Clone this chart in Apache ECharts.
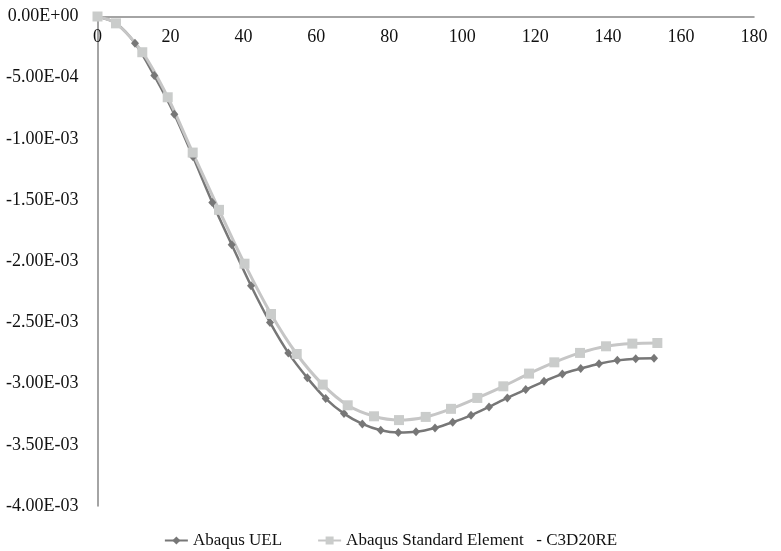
<!DOCTYPE html>
<html>
<head>
<meta charset="utf-8">
<script src="https://cdn.jsdelivr.net/npm/echarts@6/dist/echarts.min.js"></script>
<style>
html,body{margin:0;padding:0;background:#fff;}
#chart{width:781px;height:551px;}
</style>
</head>
<body>
<div id="chart"></div>
<script>
// UEL series (dark diamonds)
const xUEL = [0, 5.07, 10.28, 15.57, 21.06, 26.19, 31.48, 36.80, 42.09, 47.30, 52.32, 57.53, 62.57, 67.59, 72.61, 77.65, 82.48, 87.33, 92.54, 97.39, 102.41, 107.35, 112.37, 117.41, 122.43, 127.45, 132.49, 137.51, 142.53, 147.57, 152.59];
const yUEL = [0, -5.5e-5, -2.19e-4, -4.83e-4, -7.98e-4, -1.147e-3, -1.52e-3, -1.865e-3, -2.20e-3, -2.50e-3, -2.749e-3, -2.953e-3, -3.122e-3, -3.245e-3, -3.329e-3, -3.381e-3, -3.40e-3, -3.394e-3, -3.362e-3, -3.316e-3, -3.259e-3, -3.190e-3, -3.117e-3, -3.049e-3, -2.981e-3, -2.921e-3, -2.877e-3, -2.837e-3, -2.810e-3, -2.796e-3, -2.793e-3];
// Standard element series (light squares)
const xStd = [0, 5.07, 12.28, 19.25, 26.10, 33.31, 40.3, 47.57, 54.62, 61.75, 68.60, 75.81, 82.67, 89.99, 96.93, 104.14, 111.27, 118.32, 125.25, 132.30, 139.43, 146.64, 153.50];
const yStd = [0, -5.6e-5, -2.92e-4, -6.60e-4, -1.112e-3, -1.580e-3, -2.02e-3, -2.431e-3, -2.758e-3, -3.008e-3, -3.177e-3, -3.267e-3, -3.298e-3, -3.272e-3, -3.206e-3, -3.117e-3, -3.022e-3, -2.918e-3, -2.826e-3, -2.749e-3, -2.695e-3, -2.673e-3, -2.668e-3];
const seriesNames = ['Abaqus UEL', 'Abaqus Standard Element   - C3D20RE'];
const xTicks = {min: 0, max: 180, interval: 20};
const yTicks = {min: -0.004, max: 0, interval: 0.0005};

function fmtE(v) {
  if (Math.abs(v) < 1e-12) return '0.00E+00';
  const s = v.toExponential(2);
  const parts = s.split('e');
  const n = parseInt(parts[1], 10);
  return parts[0] + 'E' + (n < 0 ? '-' : '+') + String(Math.abs(n)).padStart(2, '0');
}

const font = 'Liberation Serif';
const chart = echarts.init(document.getElementById('chart'));
chart.setOption({
  animation: false,
  backgroundColor: '#fff',
  grid: {left: 97.5, top: 16.5, right: 27, bottom: 45, containLabel: false, outerBoundsMode: 'none'},
  legend: {
    bottom: -3,
    left: 'center',
    itemWidth: 23,
    itemHeight: 10,
    itemGap: 35,
    textStyle: {fontFamily: font, fontSize: 17, color: '#111'},
    data: seriesNames
  },
  xAxis: {
    type: 'value',
    position: 'top',
    min: xTicks.min, max: xTicks.max, interval: xTicks.interval,
    axisLine: {show: true, onZero: false, lineStyle: {color: '#868686', width: 1.5}},
    axisTick: {show: false},
    splitLine: {show: false},
    axisLabel: {inside: true, fontFamily: font, fontSize: 18, color: '#111', margin: 12}
  },
  yAxis: {
    type: 'value',
    min: yTicks.min, max: yTicks.max, interval: yTicks.interval,
    axisLine: {show: true, onZero: false, lineStyle: {color: '#868686', width: 1.5}},
    axisTick: {show: false},
    splitLine: {show: false},
    axisLabel: {fontFamily: font, fontSize: 18, color: '#111', margin: 19, formatter: fmtE}
  },
  series: [
    {
      name: seriesNames[0],
      type: 'line',
      smooth: 0.3,
      symbol: 'diamond',
      symbolSize: [8, 9],
      lineStyle: {color: '#777777', width: 2.5},
      itemStyle: {color: '#777777'},
      data: xUEL.map((x, i) => [x, yUEL[i]])
    },
    {
      name: seriesNames[1],
      type: 'line',
      smooth: 0.3,
      symbol: 'rect',
      symbolSize: 10,
      lineStyle: {color: '#c6c6c6', width: 3},
      itemStyle: {color: '#cacccb'},
      data: xStd.map((x, i) => [x, yStd[i]])
    }
  ]
});
</script>
</body>
</html>
